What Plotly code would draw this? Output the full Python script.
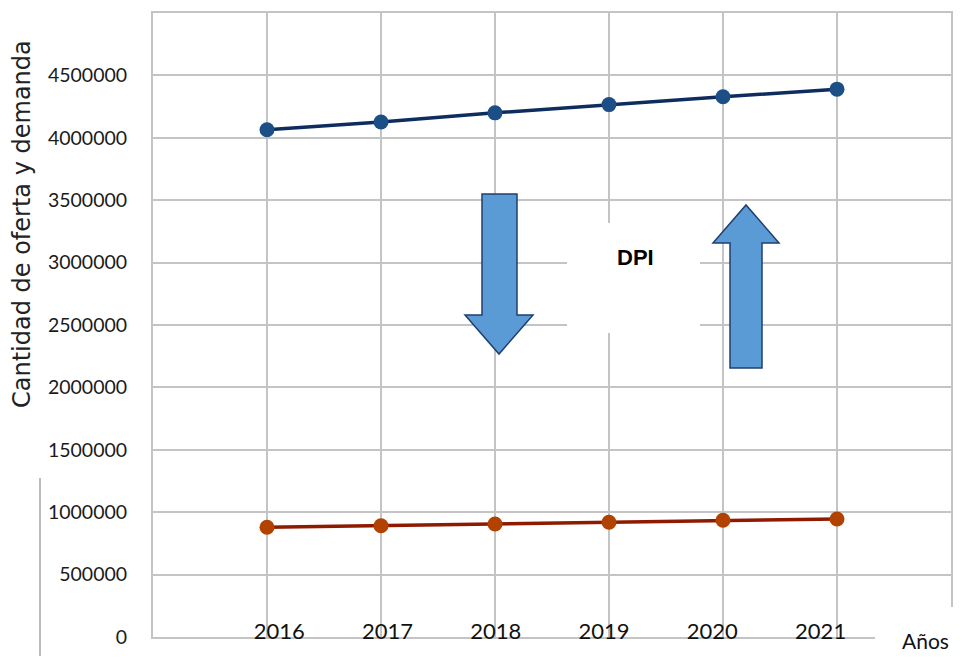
import plotly.graph_objects as go

years = [2016, 2017, 2018, 2019, 2020, 2021]
oferta = [4065000, 4127000, 4200000, 4266000, 4329000, 4390000]
demanda = [880000, 892000, 905000, 919000, 935000, 946000]
y_ticks = [0, 500000, 1000000, 1500000, 2000000, 2500000, 3000000, 3500000,
           4000000, 4500000, 5000000]
y_tick_labels = [str(v) for v in y_ticks]
year_labels = [str(y) for y in years]

# The page body has an 8px margin; the figure is sized so the page fits the window.
OFF = 8
W, H = 969 - 2 * OFF, 664 - 2 * OFF
# plot area in screen pixels (reference picture)
PL, PR, PT, PB = 153, 951, 13, 637
PW, PH = PR - PL, PB - PT
ML, MT = PL - OFF, PT - OFF
MR, MB = W - ML - PW, H - MT - PH


def px(xpix, ypix):
    return (xpix - PL) / PW, (PB - ypix) / PH


def path(points):
    pts = [px(a, b) for a, b in points]
    return "M " + " L ".join(f"{a:.5f},{b:.5f}" for a, b in pts) + " Z"


fig = go.Figure()
fig.add_trace(go.Scatter(
    x=years, y=oferta, mode="lines+markers",
    line=dict(color="#0E2C5E", width=3.5),
    marker=dict(color="#1B4F86", size=15),
    showlegend=False, hoverinfo="skip"))
fig.add_trace(go.Scatter(
    x=years, y=demanda, mode="lines+markers",
    line=dict(color="#8E1A00", width=3.5),
    marker=dict(color="#B24200", size=15),
    showlegend=False, hoverinfo="skip"))
# invisible trace to carry the x tick label axis
fig.add_trace(go.Scatter(x=years, y=demanda, xaxis="x2", mode="markers",
                         marker=dict(opacity=0), showlegend=False, hoverinfo="skip"))

grid = "#C4C4C4"
fig.update_layout(
    width=W, height=H,
    margin=dict(l=ML, r=MR, t=MT, b=MB, pad=0, autoexpand=False),
    paper_bgcolor="white", plot_bgcolor="white",
    xaxis=dict(range=[2015, 2022], tickvals=years, showticklabels=False,
               showgrid=True, gridcolor=grid, gridwidth=2, zeroline=False,
               showline=True, linecolor=grid, linewidth=2, mirror=True,
               automargin=False),
    xaxis2=dict(overlaying="x", side="bottom", range=[2014.835, 2022.204],
                tickvals=years, ticktext=year_labels, showgrid=False,
                zeroline=False, showline=False, automargin=False,
                ticklabelposition="outside", ticklabelstandoff=-21,
                tickfont=dict(family="Lato", size=22, color="#111111")),
    yaxis=dict(range=[0, 5000000], tickvals=y_ticks, ticktext=y_tick_labels,
               showgrid=True, gridcolor=grid, gridwidth=2, zeroline=False,
               showline=True, linecolor=grid, linewidth=2, mirror=True,
               ticklabelstandoff=20, automargin=False,
               tickfont=dict(family="Lato", size=19.5, color="#1a1a1a")),
    font=dict(family="Lato"),
)

shapes = []
# white patch behind DPI
x0, y0 = px(567, 333)
x1, y1 = px(700, 223)
shapes.append(dict(type="rect", xref="paper", yref="paper", x0=x0, y0=y0, x1=x1, y1=y1,
                   fillcolor="white", line=dict(width=0), layer="above"))
# white patch at bottom-right corner (behind "Años")
x0, y0 = px(875, 664)
x1, y1 = px(969, 607)
shapes.append(dict(type="rect", xref="paper", yref="paper", x0=x0, y0=y0, x1=x1, y1=y1,
                   fillcolor="white", line=dict(width=0), layer="above"))
# down arrow
down = [(482, 194), (517, 194), (517, 315), (533, 315), (499, 354), (465, 315), (482, 315)]
shapes.append(dict(type="path", xref="paper", yref="paper", path=path(down),
                   fillcolor="#5B9BD5", line=dict(color="#1F3F6E", width=1.5), layer="above"))
# up arrow
up = [(730, 368), (762, 368), (762, 243), (779, 243), (746, 205), (713, 243), (730, 243)]
shapes.append(dict(type="path", xref="paper", yref="paper", path=path(up),
                   fillcolor="#5B9BD5", line=dict(color="#1F3F6E", width=1.5), layer="above"))
# stray vertical line at left
x0, y0 = px(40, 664)
x1, y1 = px(40, 478)
shapes.append(dict(type="line", xref="paper", yref="paper", x0=x0, y0=y0, x1=x1, y1=y1,
                   line=dict(color="#BBBBBB", width=2), layer="above"))
fig.update_layout(shapes=shapes)

ax, ay = px(635, 257)
tx, ty = px(925, 640)
gx, gy = px(22, 224)
fig.update_layout(annotations=[
    dict(text="<b>DPI</b>", x=ax, y=ay, xref="paper", yref="paper", showarrow=False,
         xanchor="center", yanchor="middle",
         font=dict(family="Liberation Sans", size=22, color="#000000")),
    dict(text="Años", x=tx, y=ty, xref="paper", yref="paper", showarrow=False,
         xanchor="center", yanchor="middle",
         font=dict(family="Lato", size=21, color="#111111")),
    dict(text="Cantidad de oferta y demanda", x=gx, y=gy, xref="paper", yref="paper",
         showarrow=False, textangle=-90, xanchor="center", yanchor="middle",
         font=dict(family="DejaVu Sans", size=24, color="#222222")),
])

fig.write_html("out.html")
